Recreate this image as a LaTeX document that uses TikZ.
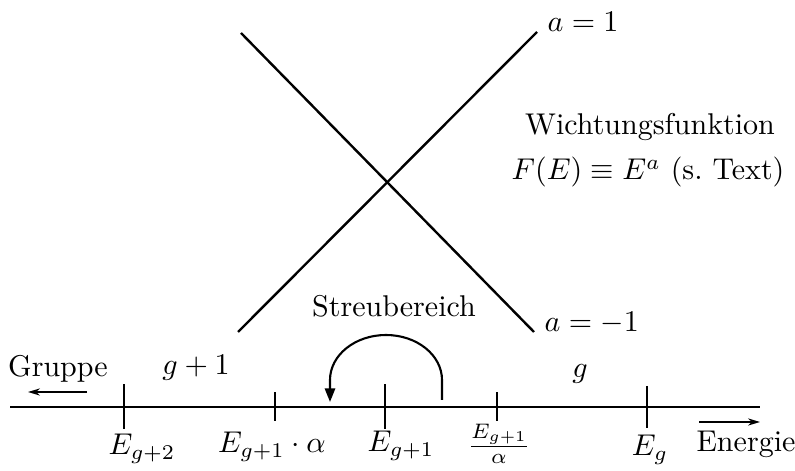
\documentclass[tikz,border=0pt]{standalone}
\usepackage{amsmath,amssymb}
\usepackage{tikz}
\usetikzlibrary{arrows.meta,positioning}
\tikzset{
  wline/.style={line width=0.8pt},
  axisline/.style={line width=0.9pt},
  tick/.style={line width=0.6pt},
  dirarrow/.style={line width=0.45pt,-{Stealth[length=4pt,width=2.4pt]}},
  lab/.style={anchor=base,inner sep=0pt},
}

\begin{document}
\begin{tikzpicture}[x=0.333pt,y=-0.333pt,>=Stealth]
  \useasboundingbox (0,0) rectangle (795,471);
  % the two weighting lines E^a
  \coordinate (up0) at (238,332);
  \coordinate (up1) at (537,32);
  \coordinate (dn0) at (241,33);
  \coordinate (dn1) at (534,332);
  \draw[wline] (up0) -- (up1);
  \draw[wline] (dn0) -- (dn1);
  \node[anchor=base west] (aplus) at (up1) {$a=1$};
  \node[anchor=base west] (aminus) at (dn1) {$a=-1$};
  \node[lab] (wf) at (650,135) {Wichtungsfunktion};
  \node[lab] (fe) at (648,180) {$F(E)\equiv E^a$ (s.\ Text)};
  % energy axis with group boundaries
  \coordinate (axL) at (10,407);
  \coordinate (axR) at (760,407);
  \draw[axisline] (axL) -- (axR);
  \foreach \x/\h in {124/22.5,275/14.5,385/22.5,497/14.5,647/21}
     \draw[tick] (\x,{407-\h}) -- (\x,{407+\h});
  \node[lab] (lEgg) at (142,455) {$E_{g+2}$};
  \node[lab] (lEa) at (272,453) {$E_{g+1}\cdot\alpha$};
  \node[lab] (lEg1) at (401,452) {$E_{g+1}$};
  \node (lEb) at (499,444) {$\frac{E_{g+1}}{\alpha}$};
  \node[lab] (lEg) at (650,456) {$E_g$};
  % group names and directions
  \node[lab] (gru) at (58,377) {Gruppe};
  \node[lab] (gnext) at (196,375) {$g+1$};
  \node[lab] (gcur) at (580,378) {$g$};
  \node[lab] (ene) at (746,452) {Energie};
  \coordinate (gruA) at (87,392);
  \coordinate (gruB) at (28,392);
  \coordinate (eneA) at (699,422);
  \coordinate (eneB) at (760,422);
  \draw[dirarrow] (gruA) -- (gruB);
  \draw[dirarrow] (eneA) -- (eneB);
  % scattering loop
  \node[lab] (streu) at (394,317) {Streubereich};
  \coordinate (sc0) at (442,400);
  \coordinate (sc1) at (330,402);
  \draw[line width=0.7pt,-{Triangle[length=4.5pt,width=3.4pt]}]
     (sc0) -- ++(0,-20) arc[start angle=0,end angle=-180,x radius=56,y radius=45] -- (sc1);
\end{tikzpicture}
\end{document}
